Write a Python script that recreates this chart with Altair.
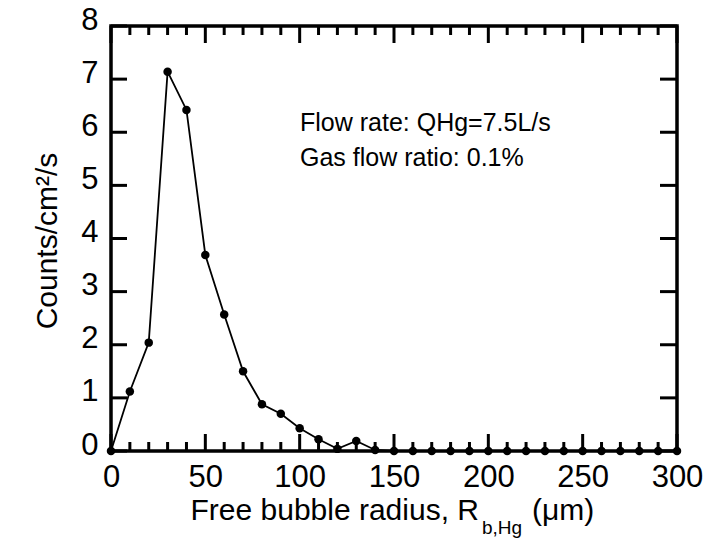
import altair as alt
import pandas as pd

# data
radius = [0, 10, 20, 30, 40, 50, 60, 70, 80, 90, 100, 110, 120, 130, 140,
          150, 160, 170, 180, 190, 200, 210, 220, 230, 240, 250, 260, 270, 280, 290, 300]
counts = [0.0, 1.12, 2.04, 7.14, 6.42, 3.69, 2.57, 1.50, 0.88, 0.70, 0.43, 0.22, 0.04, 0.19, 0.02,
          0, 0, 0, 0, 0, 0, 0, 0, 0, 0, 0, 0, 0, 0, 0, 0]
x_major = [0, 50, 100, 150, 200, 250, 300]
x_minor = [v for v in range(10, 300, 10) if v % 50 != 0]
y_major = [0, 1, 2, 3, 4, 5, 6, 7, 8]
annotations = ["Flow rate: QHg=7.5L/s", "Gas flow ratio: 0.1%"]
y_title = "Counts/cm\u00b2/s"
x_title_main = "Free bubble radius, R"
x_title_sub = "b,Hg"
x_title_end = "(\u03bcm)"

FONT = "Liberation Sans"
W, H = 566, 425

df = pd.DataFrame({"x": radius, "y": counts})
xs = alt.Scale(domain=[0, 300], nice=False)
ys = alt.Scale(domain=[0, 8], nice=False)
xaxis = alt.Axis(values=x_major, labelFontSize=31, labelFont=FONT, labelColor="black",
                 labelPadding=11, ticks=False, domain=False, grid=False, title=None,
                 labelFlush=False)
yaxis = alt.Axis(values=y_major, labelFontSize=31, labelFont=FONT, labelColor="black",
                 labelPadding=13, ticks=False, domain=False, grid=False, title=None,
                 labelOffset=-6)
X = lambda f: alt.X(f, scale=xs, axis=xaxis)
Y = lambda f: alt.Y(f, scale=ys, axis=yaxis)

line = alt.Chart(df).mark_line(color="black", strokeWidth=1.8).encode(x=X("x:Q"), y=Y("y:Q"))
pts = alt.Chart(df).mark_circle(color="black", size=72, opacity=1).encode(x=X("x:Q"), y=Y("y:Q"))

xmaj = pd.DataFrame({"x": x_major})
xmin = pd.DataFrame({"x": x_minor})
ymaj = pd.DataFrame({"y": y_major})
rule = dict(color="black", strokeWidth=3)

bot_major = alt.Chart(xmaj).mark_rule(**rule).encode(x=X("x:Q"), y=alt.value(H), y2=alt.value(H - 17))
bot_minor = alt.Chart(xmin).mark_rule(**rule).encode(x=X("x:Q"), y=alt.value(H), y2=alt.value(H - 9))
top_major = alt.Chart(xmaj).mark_rule(**rule).encode(x=X("x:Q"), y=alt.value(0), y2=alt.value(17))
top_minor = alt.Chart(xmin).mark_rule(**rule).encode(x=X("x:Q"), y=alt.value(0), y2=alt.value(9))
left_t = alt.Chart(ymaj).mark_rule(**rule).encode(y=Y("y:Q"), x=alt.value(0), x2=alt.value(16))
right_t = alt.Chart(ymaj).mark_rule(**rule).encode(y=Y("y:Q"), x=alt.value(W), x2=alt.value(W - 17))

ann1 = alt.Chart(pd.DataFrame({"t": [annotations[0]]})).mark_text(
    font=FONT, fontSize=25, align="left", baseline="alphabetic", color="black"
).encode(x=alt.value(189), y=alt.value(105), text="t:N")
ann2 = alt.Chart(pd.DataFrame({"t": [annotations[1]]})).mark_text(
    font=FONT, fontSize=25, align="left", baseline="alphabetic", color="black"
).encode(x=alt.value(189), y=alt.value(140), text="t:N")

xt1 = alt.Chart(pd.DataFrame({"t": [x_title_main]})).mark_text(
    font=FONT, fontSize=30, align="right", baseline="alphabetic", color="black"
).encode(x=alt.value(368), y=alt.value(494), text="t:N")
xt2 = alt.Chart(pd.DataFrame({"t": [x_title_sub]})).mark_text(
    font=FONT, fontSize=19, align="left", baseline="alphabetic", color="black"
).encode(x=alt.value(371), y=alt.value(508), text="t:N")
xt3 = alt.Chart(pd.DataFrame({"t": [x_title_end]})).mark_text(
    font=FONT, fontSize=30, align="left", baseline="alphabetic", color="black"
).encode(x=alt.value(421), y=alt.value(494), text="t:N")
yt = alt.Chart(pd.DataFrame({"t": [y_title]})).mark_text(
    font=FONT, fontSize=30, align="center", baseline="alphabetic", color="black", angle=270
).encode(x=alt.value(-54), y=alt.value(215), text="t:N")

chart = alt.layer(
    bot_major, bot_minor, top_major, top_minor, left_t, right_t,
    line, pts, ann1, ann2, xt1, xt2, xt3, yt
).properties(
    width=W, height=H,
    autosize=alt.AutoSizeParams(type="none"),
    padding={"left": 111, "top": 26, "right": 28, "bottom": 94},
    background="white",
).configure_view(stroke="black", strokeWidth=3.5)

chart.save("out.html", embed_options={"renderer": "svg", "actions": False})
